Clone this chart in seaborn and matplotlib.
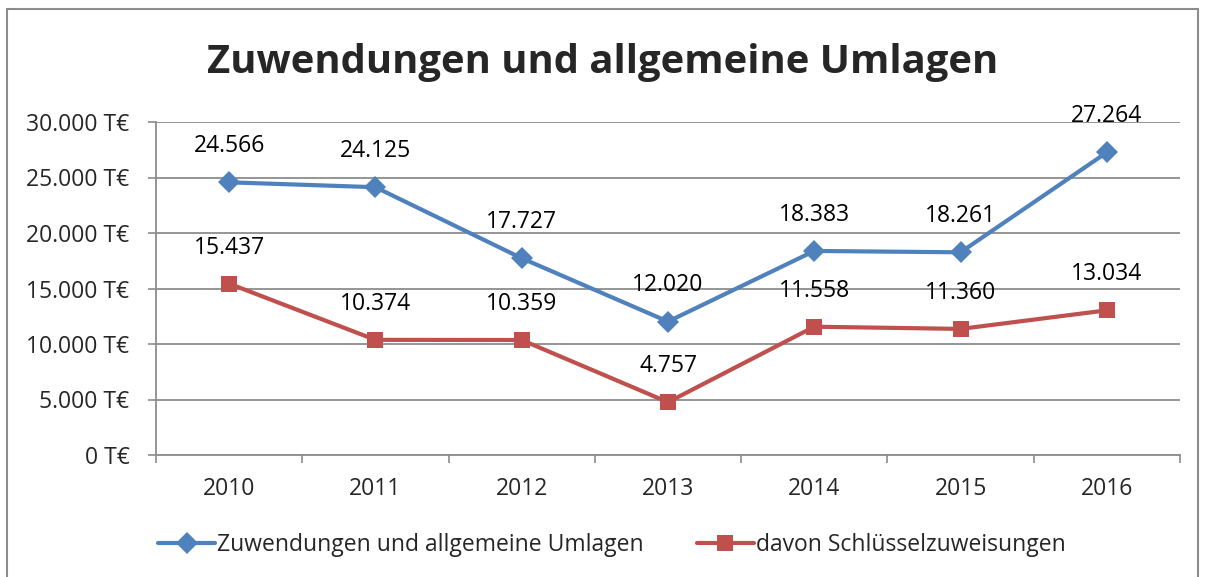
import matplotlib
matplotlib.use("Agg")
import matplotlib.pyplot as plt
import seaborn as sns
import pandas as pd
from matplotlib.patches import Rectangle
from matplotlib.lines import Line2D

years = ["2010", "2011", "2012", "2013", "2014", "2015", "2016"]
zuwendungen = [24566, 24125, 17727, 12020, 18383, 18261, 27264]
schluessel = [15437, 10374, 10359, 4757, 11558, 11360, 13034]
series_names = ["Zuwendungen und allgemeine Umlagen", "davon Schlüsselzuweisungen"]
y_ticks = [0, 5000, 10000, 15000, 20000, 25000, 30000]

BLUE = "#4F81BD"
RED = "#C0504D"
GRID = "#8C8C8C"
FS = 16.5


def de_num(v):
    return f"{v:,}".replace(",", ".")


df = pd.DataFrame({
    "pos": list(range(len(years))) * 2,
    "wert": zuwendungen + schluessel,
    "serie": [series_names[0]] * len(years) + [series_names[1]] * len(years),
})

sns.set_style("white")
plt.rcParams["font.family"] = ["Open Sans", "DejaVu Sans"]

W, H = 1206, 577
fig = plt.figure(figsize=(W / 100, H / 100), dpi=100)
ax = fig.add_axes([156 / W, 1 - 455 / H, (1180 - 156) / W, (455 - 122) / H])

sns.lineplot(data=df, x="pos", y="wert", hue="serie", style="serie",
             palette=[BLUE, RED], markers=["D", "s"], dashes=False,
             markersize=11, linewidth=3, markeredgewidth=0, ax=ax, legend=False)

for vals in (zuwendungen, schluessel):
    for i, v in enumerate(vals):
        ax.annotate(de_num(v), (i, v), xytext=(0, 26), textcoords="offset points",
                    ha="center", va="center", fontsize=FS, color="black")

ax.set_xlim(-0.5, len(years) - 0.5)
ax.set_ylim(0, 30000)
ax.set_yticks(y_ticks)
ax.set_yticklabels([f"{de_num(t)} T€" for t in y_ticks], fontsize=FS)
ax.set_xticks(range(len(years)))
ax.set_xticklabels(years, fontsize=FS)
ax.set_xticks([i - 0.5 for i in range(len(years) + 1)], minor=True)
ax.tick_params(axis="x", which="major", length=0, pad=16)
ax.tick_params(axis="x", which="minor", length=6, width=1.2, color=GRID, direction="out", bottom=True)
ax.tick_params(axis="y", which="major", length=6, width=1.2, color=GRID, direction="out", left=True, pad=13)
ax.set_xlabel("")
ax.set_ylabel("")
ax.grid(axis="y", color=GRID, linewidth=1.3)
ax.grid(axis="x", visible=False)
for s in ("top", "right"):
    ax.spines[s].set_visible(False)
for s in ("left", "bottom"):
    ax.spines[s].set_color(GRID)
    ax.spines[s].set_linewidth(1.3)

fig.text(0.5, 1 - 62 / H, "Zuwendungen und allgemeine Umlagen", ha="center", va="center",
         fontsize=28.8, fontweight="bold")

handles = [
    Line2D([], [], color=BLUE, marker="D", markersize=11, linewidth=3, markeredgewidth=0),
    Line2D([], [], color=RED, marker="s", markersize=11, linewidth=3, markeredgewidth=0),
]
fig.legend(handles, series_names, loc="center", bbox_to_anchor=(612 / W, 1 - 545 / H),
           ncol=2, frameon=False, fontsize=FS, handlelength=2.5, handletextpad=0.1,
           columnspacing=2.3)

fig.patches.append(Rectangle((7 / W, -0.05), (1198 - 7) / W, 1.05 - 9 / H,
                             transform=fig.transFigure, fill=False,
                             edgecolor="#8C8C8C", linewidth=1.5))

fig.savefig("out.png", dpi=100)
